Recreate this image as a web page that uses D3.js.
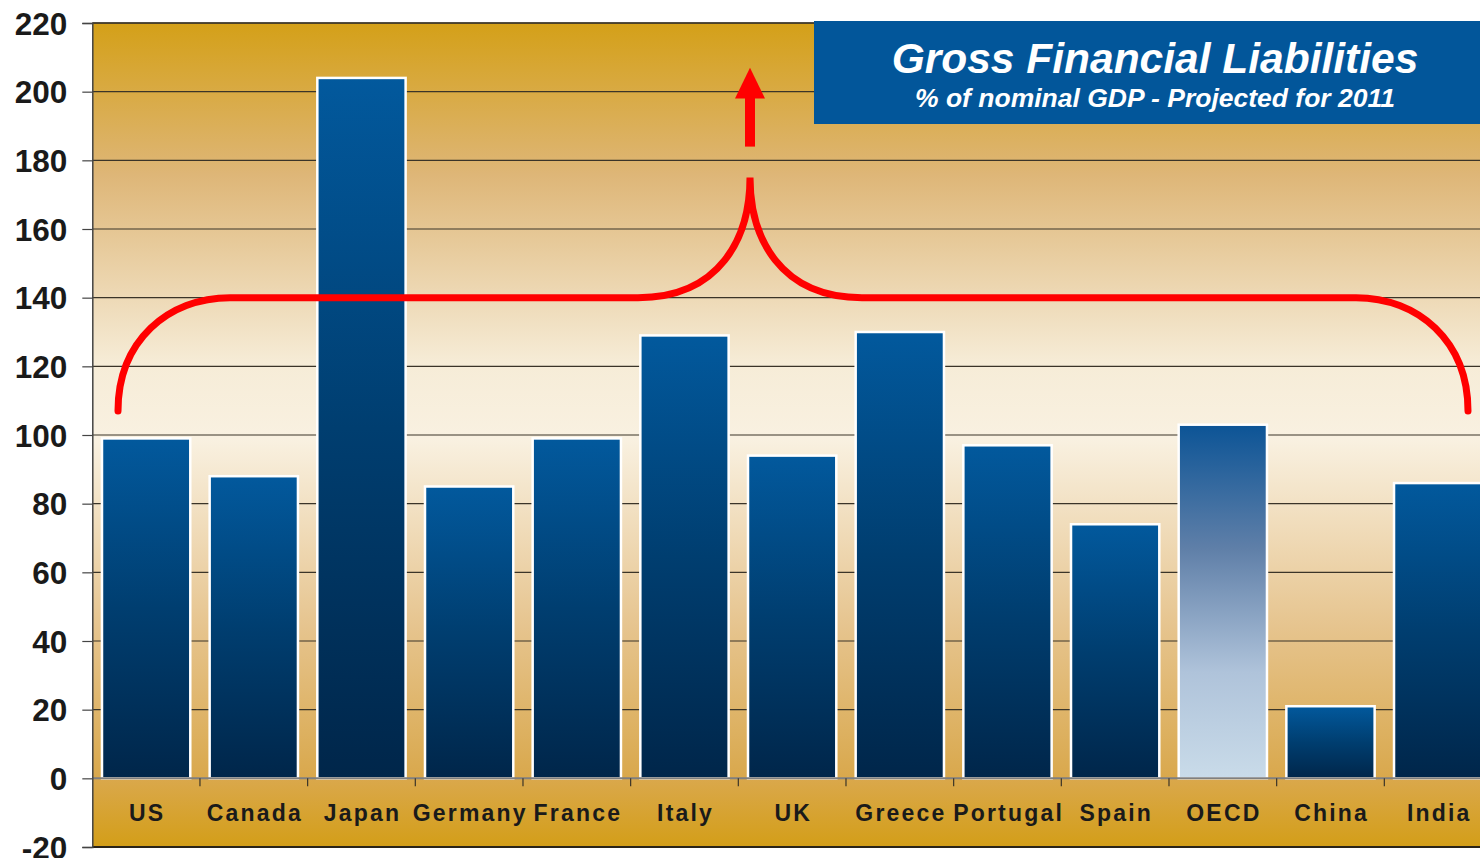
<!DOCTYPE html>
<html>
<head>
<meta charset="utf-8">
<script src="https://cdn.jsdelivr.net/npm/d3@7"></script>
<style>
  body { margin: 0; background: #fff; }
  svg { display: block; font-family: "Liberation Sans", Arial, sans-serif; }
  .tick-label { font-size: 31.5px; font-weight: bold; fill: #1a1a1a; }
  .cat-label { font-size: 23px; font-weight: bold; fill: #1a1a1a; letter-spacing: 2.2px; }
</style>
</head>
<body>
<svg id="chart" width="1480" height="858"></svg>
<script>
// data
const categories = ["US", "Canada", "Japan", "Germany", "France", "Italy", "UK",
    "Greece", "Portugal", "Spain", "OECD", "China", "India"];
const liabilities = [99, 88, 204, 85, 99, 129, 94, 130, 97, 74, 103, 21, 86];
const yTicks = [-20, 0, 20, 40, 60, 80, 100, 120, 140, 160, 180, 200, 220];
const highlight = ["OECD"];

const margin = { left: 92.3, top: 23, bottom: 11 };
const width = 1480, height = 858;
const plotRight = 1492;

const svg = d3.select("#chart");

let x = d3.scaleBand()
    .domain(categories)
    .range([margin.left, plotRight])
    .paddingInner(0.18)
    .paddingOuter(0.09);

let y = d3.scaleLinear()
    .domain([-20, 220])
    .range([height - margin.bottom, margin.top]);

const step = x.step();
const defs = svg.append("defs");

// background gradients
let bg = defs.append("linearGradient").attr("id", "bg").attr("x1", 0).attr("y1", 0).attr("x2", 0).attr("y2", 1);
bg.append("stop").attr("offset", "0%").attr("stop-color", "#D4A018");
bg.append("stop").attr("offset", "20%").attr("stop-color", "#DEB677");
bg.append("stop").attr("offset", "45%").attr("stop-color", "#F6ECD7");
bg.append("stop").attr("offset", "55%").attr("stop-color", "#F9F1E1");
bg.append("stop").attr("offset", "80%").attr("stop-color", "#E6C48E");
bg.append("stop").attr("offset", "100%").attr("stop-color", "#D9A84C");

let band = defs.append("linearGradient").attr("id", "band").attr("x1", 0).attr("y1", 0).attr("x2", 0).attr("y2", 1);
band.append("stop").attr("offset", "0%").attr("stop-color", "#DAA84C");
band.append("stop").attr("offset", "100%").attr("stop-color", "#D39E18");

let barGrad = defs.append("linearGradient").attr("id", "barGrad").attr("x1", 0).attr("y1", 0).attr("x2", 0).attr("y2", 1);
barGrad.append("stop").attr("offset", "0%").attr("stop-color", "#02599D");
barGrad.append("stop").attr("offset", "50%").attr("stop-color", "#003E70");
barGrad.append("stop").attr("offset", "100%").attr("stop-color", "#00264A");

let oecdGrad = defs.append("linearGradient").attr("id", "oecdGrad").attr("x1", 0).attr("y1", 0).attr("x2", 0).attr("y2", 1);
oecdGrad.append("stop").attr("offset", "0%").attr("stop-color", "#0C5496");
oecdGrad.append("stop").attr("offset", "35%").attr("stop-color", "#5F7FA8");
oecdGrad.append("stop").attr("offset", "70%").attr("stop-color", "#AFC3DA");
oecdGrad.append("stop").attr("offset", "100%").attr("stop-color", "#C9DBE9");

// plot backgrounds
svg.append("rect")
    .attr("x", margin.left).attr("y", y(220))
    .attr("width", plotRight - margin.left).attr("height", y(0) - y(220))
    .attr("fill", "url(#bg)");
svg.append("rect")
    .attr("x", margin.left).attr("y", y(0))
    .attr("width", plotRight - margin.left).attr("height", y(-20) - y(0))
    .attr("fill", "url(#band)");

// gridlines
svg.append("g").selectAll("line")
    .data(yTicks.filter(d => d > 0))
    .enter().append("line")
    .attr("x1", margin.left).attr("x2", plotRight)
    .attr("y1", d => y(d)).attr("y2", d => y(d))
    .attr("stroke", "#3a3428").attr("stroke-width", 1.2);

// bars
svg.append("g").selectAll("rect")
    .data(categories)
    .enter().append("rect")
    .attr("x", d => x(d))
    .attr("y", (d, i) => y(liabilities[i]))
    .attr("width", x.bandwidth())
    .attr("height", (d, i) => y(0) - y(liabilities[i]))
    .attr("fill", d => highlight.includes(d) ? "url(#oecdGrad)" : "url(#barGrad)")
    .attr("stroke", "#ffffff")
    .attr("stroke-width", 2.5);

// zero line
svg.append("line")
    .attr("x1", margin.left).attr("x2", plotRight)
    .attr("y1", y(0)).attr("y2", y(0))
    .attr("stroke", "#7f7f7f").attr("stroke-width", 2);

// frame lines
svg.append("line")
    .attr("x1", margin.left).attr("x2", plotRight)
    .attr("y1", y(220)).attr("y2", y(220))
    .attr("stroke", "#3a3428").attr("stroke-width", 1.5);
svg.append("line")
    .attr("x1", margin.left).attr("x2", plotRight)
    .attr("y1", y(-20)).attr("y2", y(-20))
    .attr("stroke", "#2a2418").attr("stroke-width", 2);

// y axis
let yAxis = d3.axisLeft(y).tickValues(yTicks).tickFormat(d => String(d)).tickSize(10).tickPadding(15);
let gy = svg.append("g")
    .attr("transform", `translate(${margin.left},0)`)
    .call(yAxis);
gy.select(".domain").attr("stroke", "#444").attr("stroke-width", 1.5);
gy.selectAll(".tick line").attr("stroke", "#444").attr("stroke-width", 1.2);
gy.selectAll(".tick text")
    .attr("class", "tick-label")
    .attr("dy", "0.35em")
    .attr("font-family", null).attr("font-size", null).attr("fill", null);

// x ticks at band boundaries
svg.append("g").selectAll("line")
    .data(categories.slice(1))
    .enter().append("line")
    .attr("x1", d => x(d) - step * 0.09).attr("x2", d => x(d) - step * 0.09)
    .attr("y1", y(0)).attr("y2", y(0) + 8)
    .attr("stroke", "#3a3428").attr("stroke-width", 1.2);

// category labels
svg.append("g").selectAll("text")
    .data(categories)
    .enter().append("text")
    .attr("class", "cat-label")
    .attr("x", d => x(d) + x.bandwidth() / 2 + 1.1)
    .attr("y", y(0) + 43)
    .attr("text-anchor", "middle")
    .text(d => d);

// red brace annotation
const braceY = y(140), endY = y(107), peakY = y(175);
const r = 112, peakX = 750, leftX = 118, rightX = 1468;
const brace = d3.path();
brace.moveTo(leftX, endY);
brace.bezierCurveTo(leftX, endY - 70, leftX + 50, braceY, leftX + r, braceY);
brace.lineTo(peakX - r, braceY);
brace.bezierCurveTo(peakX - 30, braceY, peakX, braceY - 60, peakX, peakY);
brace.bezierCurveTo(peakX, braceY - 60, peakX + 30, braceY, peakX + r, braceY);
brace.lineTo(rightX - r, braceY);
brace.bezierCurveTo(rightX - 50, braceY, rightX, endY - 70, rightX, endY);
svg.append("path")
    .attr("d", brace.toString())
    .attr("fill", "none")
    .attr("stroke", "#ff0000")
    .attr("stroke-width", 7)
    .attr("stroke-linecap", "round");

// arrow
svg.append("line")
    .attr("x1", peakX).attr("x2", peakX)
    .attr("y1", y(184)).attr("y2", y(199))
    .attr("stroke", "#ff0000").attr("stroke-width", 10);
svg.append("path")
    .attr("d", `M${peakX - 15},${y(198)} L${peakX},${y(207)} L${peakX + 15},${y(198)} Z`)
    .attr("fill", "#ff0000");

// title box
svg.append("rect")
    .attr("x", 814).attr("y", 21)
    .attr("width", 680).attr("height", 103)
    .attr("fill", "#02569A");
svg.append("text")
    .attr("x", 1155).attr("y", 73)
    .attr("text-anchor", "middle")
    .attr("fill", "#fff")
    .attr("font-size", 42.5).attr("font-weight", "bold").attr("font-style", "italic")
    .text("Gross Financial Liabilities");
svg.append("text")
    .attr("x", 1155).attr("y", 107)
    .attr("text-anchor", "middle")
    .attr("fill", "#fff")
    .attr("font-size", 26.5).attr("font-weight", "bold").attr("font-style", "italic")
    .text("% of nominal GDP - Projected for 2011");
</script>
</body>
</html>
